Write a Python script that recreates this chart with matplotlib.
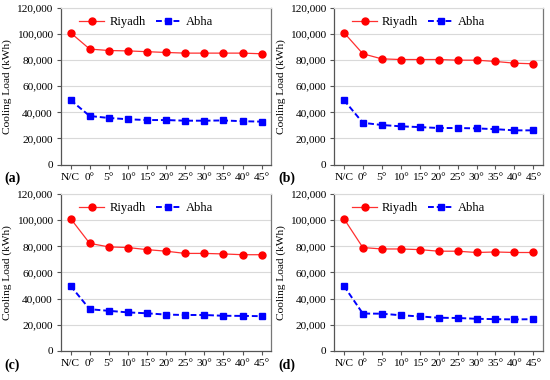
import matplotlib
matplotlib.use('Agg')
import matplotlib.pyplot as plt
from matplotlib.ticker import FuncFormatter

plt.rcParams['font.family'] = ['Liberation Serif', 'DejaVu Serif']
plt.rcParams['font.size'] = 8

categories = ['N/C', '0°', '5°', '10°', '15°', '20°', '25°', '30°', '35°', '40°', '45°']

riyadh_a = [101000, 88500, 87400, 87100, 86500, 85900, 85400, 85400, 85400, 85400, 84900]
abha_a = [49400, 37200, 35700, 34700, 34100, 34100, 33600, 33600, 33800, 33200, 32900]

riyadh_b = [101200, 84900, 81000, 80500, 80500, 80500, 80000, 80000, 79000, 77700, 77200]
abha_b = [49500, 32000, 30300, 29300, 28700, 28000, 28000, 27700, 27100, 26200, 26200]

riyadh_c = [101300, 82300, 79600, 79100, 77500, 76300, 74600, 74600, 74200, 73600, 73600]
abha_c = [49700, 31800, 30600, 29400, 28700, 27700, 27400, 27400, 26800, 26700, 26500]

riyadh_d = [101300, 79100, 78000, 78000, 77500, 76300, 76300, 75300, 75700, 75300, 75300]
abha_d = [49700, 28500, 28400, 27200, 26300, 25300, 25100, 24500, 24200, 24000, 24200]

panels = [
    ('(a)', riyadh_a, abha_a, [0.111, 0.567, 0.382, 0.412]),
    ('(b)', riyadh_b, abha_b, [0.608, 0.567, 0.379, 0.412]),
    ('(c)', riyadh_c, abha_c, [0.111, 0.077, 0.382, 0.412]),
    ('(d)', riyadh_d, abha_d, [0.608, 0.077, 0.379, 0.412]),
]

fig = plt.figure(figsize=(5.5, 3.8), dpi=100)
x = list(range(len(categories)))

for label, riy, abh, rect in panels:
    ax = fig.add_axes(rect)
    ax.plot(x, riy, color='#ff3030', marker='o', markersize=5, markerfacecolor='#ff0000',
            markeredgecolor='#ff0000', linewidth=0.9, label='Riyadh')
    ax.plot(x, abh, color='#0000ff', marker='s', markersize=4.6, linewidth=1.4,
            linestyle=(0, (3, 1.5)), label='Abha')
    ax.set_xlim(-0.5, 10.5)
    ax.set_ylim(0, 120000)
    ax.set_yticks(range(0, 120001, 20000))
    ax.yaxis.set_major_formatter(FuncFormatter(lambda v, p: '{:,.0f}'.format(v)))
    ax.set_xticks(x)
    ax.set_xticklabels(categories)
    ax.grid(axis='y', color='#d9d9d9', linewidth=0.8)
    ax.set_axisbelow(True)
    for s in ['left', 'bottom']:
        ax.spines[s].set_color('#555555')
        ax.spines[s].set_linewidth(0.9)
    ax.spines['right'].set_color('#777777')
    ax.spines['right'].set_linewidth(0.9)
    ax.spines['top'].set_color('#d9d9d9')
    ax.spines['top'].set_linewidth(0.8)
    ax.tick_params(axis='both', length=3, width=0.8, color='#555555', pad=3, labelsize=8.2)
    ax.set_ylabel('Cooling Load (kWh)', fontsize=8.2, labelpad=3)
    ax.legend(frameon=False, ncol=2, loc='center', bbox_to_anchor=(0.405, 0.91),
              fontsize=9, handlelength=2.0, columnspacing=0.8, handletextpad=0.4)
    ax.text(-0.27, -0.09, label, transform=ax.transAxes, fontsize=10, fontweight='bold',
            ha='left', va='center')

fig.savefig('out.png', dpi=100)
